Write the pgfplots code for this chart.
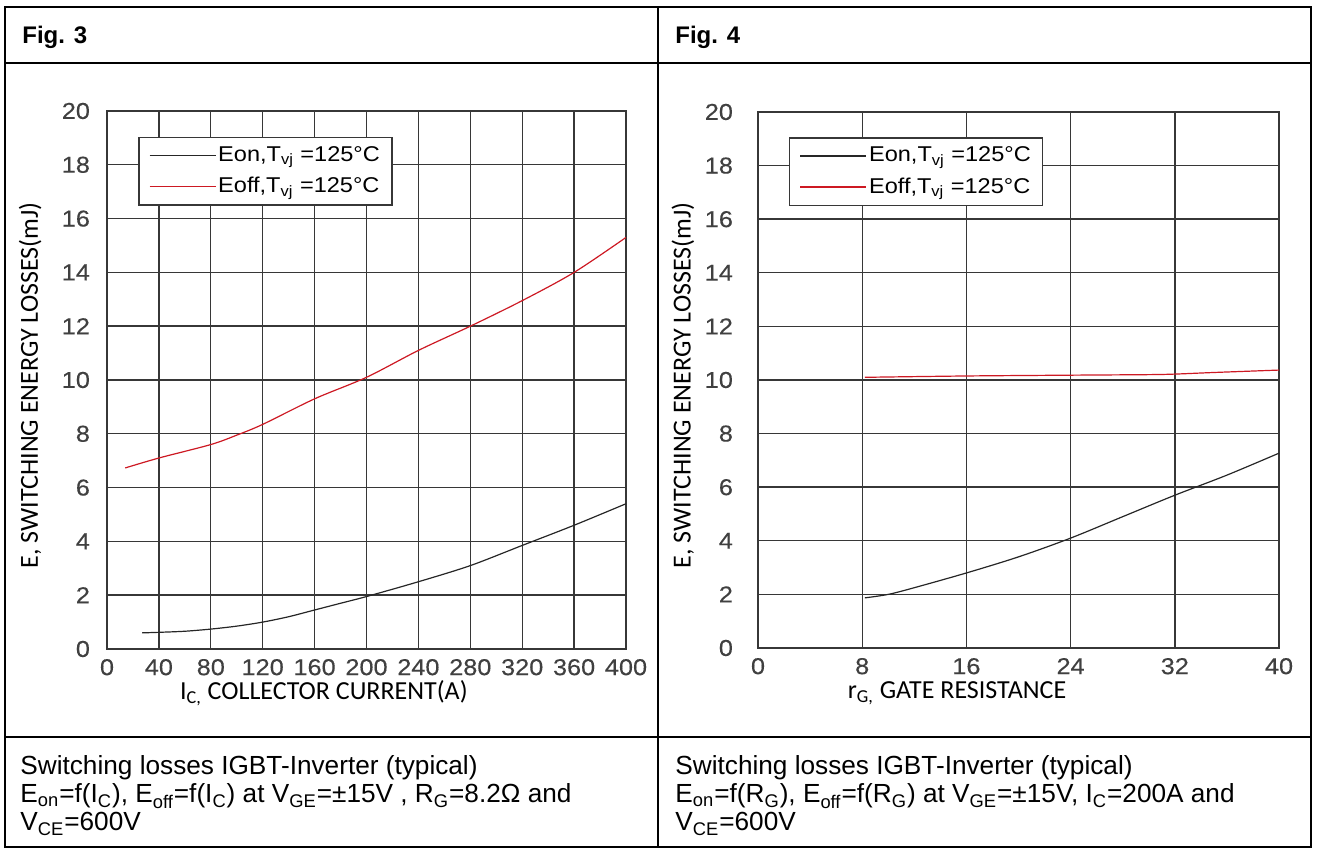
\documentclass[border=0pt]{standalone}
\usepackage{pgfplots}
\pgfplotsset{compat=1.18}
\usepackage{fontspec}
\setmainfont{Liberation Sans}
\newfontfamily\plotfont[FakeStretch=1.1,FakeBold=0.3]{Liberation Sans}
\newfontfamily\legfont[FakeStretch=1.1]{Liberation Sans}
\newfontfamily\labelfont{Carlito}
\definecolor{gridc}{RGB}{55,55,55}
\definecolor{offred}{RGB}{205,25,35}
\pgfplotsset{
  dsheet/.style={
    scale only axis,
    ymin=0, ymax=20, ytick={0,2,...,20},
    grid=major,
    major grid style={gridc, line width=0.7pt},
    axis line style={gridc, line width=0.7pt},
    major tick length=0pt,
    ticklabel style={font=\plotfont\fontsize{11.5}{12}\selectfont, text=black!75},
    /pgf/number format/assume math mode=true,
    xticklabel style={yshift=-1.5pt},
    legend cell align=left,
    legend image code/.code={\draw[##1, line width=0.7pt] (0pt,0pt) -- (33pt,0pt);},
    legend style={anchor=north west, draw=gridc, line width=0.7pt, fill=white,
      font=\legfont\fontsize{10.7}{12}\selectfont, inner xsep=5pt, inner ysep=3.5pt,
      row sep=4.5pt, nodes={inner sep=1pt}},
    xlabel style={font=\labelfont\fontsize{13}{15}\selectfont, anchor=center},
    ylabel style={font=\labelfont\fontsize{13}{15}\selectfont, anchor=center},
  }
}
\begin{document}
\begin{tikzpicture}[x=0.5pt,y=0.5pt]
\path (0,0) rectangle (1317,851);
% table frame
\draw[line width=1.25pt] (5,844) rectangle (1311,4);
\draw[line width=1.25pt] (658,844) -- (658,4);
\draw[line width=1.25pt] (5,788) -- (1311,788);
\draw[line width=1.25pt] (5,114) -- (1311,114);
% headers
\node[anchor=base west, inner sep=0pt, font=\bfseries\fontsize{12}{14}\selectfont] at (22,807) {Fig. 3};
\node[anchor=base west, inner sep=0pt, font=\bfseries\fontsize{12}{14}\selectfont] at (675,807) {Fig. 4};
% captions
\node[anchor=base west, inner sep=0pt, font=\fontsize{13.1}{15}\selectfont] at (20,76)
 {Switching losses IGBT-Inverter (typical)};
\node[anchor=base west, inner sep=0pt, font=\fontsize{13.1}{15}\selectfont] at (20,48)
 {E\textsubscript{on}=f(I\textsubscript{C}), E\textsubscript{off}=f(I\textsubscript{C}) at V\textsubscript{GE}=±15V , R\textsubscript{G}=8.2Ω and};
\node[anchor=base west, inner sep=0pt, font=\fontsize{13.1}{15}\selectfont] at (20,20)
 {V\textsubscript{CE}=600V};
\node[anchor=base west, inner sep=0pt, font=\fontsize{13.1}{15}\selectfont] at (675,76)
 {Switching losses IGBT-Inverter (typical)};
\node[anchor=base west, inner sep=0pt, font=\fontsize{13.1}{15}\selectfont] at (675,48)
 {E\textsubscript{on}=f(R\textsubscript{G}), E\textsubscript{off}=f(R\textsubscript{G}) at V\textsubscript{GE}=±15V, I\textsubscript{C}=200A and};
\node[anchor=base west, inner sep=0pt, font=\fontsize{13.1}{15}\selectfont] at (675,20)
 {V\textsubscript{CE}=600V};

% Fig. 3
\begin{axis}[dsheet,
  at={(53.5pt,101pt)}, anchor=south west,
  width=259.5pt, height=269pt,
  xmin=0, xmax=400, xtick={0,40,...,400},
  yticklabel style={xshift=-5pt},
  legend style={at={(rel axis cs:0.06,0.952)}},
  xlabel={I\textsubscript{C,} COLLECTOR CURRENT(A)},
  ylabel={E, SWITCHING ENERGY LOSSES(mJ)},
  xlabel style={at={(axis description cs:0.418,-0.082)}},
  ylabel style={at={(axis description cs:-0.148,0.49)}},
]
\addplot[black!85, line width=0.6pt, smooth] coordinates {
 (27,0.6) (40,0.62) (60,0.66) (80,0.74) (100,0.85) (120,1.0) (140,1.2)
 (160,1.45) (180,1.7) (200,1.95) (240,2.5) (280,3.1) (320,3.85) (360,4.6) (400,5.4)};
\addlegendentry{Eon,T\textsubscript{vj} =125°C}
\addplot[offred, line width=0.6pt, smooth] coordinates {
 (14,6.73) (40,7.1) (80,7.6) (100,7.95) (120,8.35) (160,9.3) (200,10.1)
 (240,11.1) (280,12.0) (320,12.95) (360,14.0) (400,15.3)};
\addlegendentry{Eoff,T\textsubscript{vj} =125°C}
\end{axis}

% Fig. 4
\begin{axis}[dsheet,
  at={(379pt,101.5pt)}, anchor=south west,
  width=260.5pt, height=268pt,
  xmin=0, xmax=40, xtick={0,8,...,40},
  yticklabel style={xshift=-9pt},
  legend style={at={(rel axis cs:0.0595,0.953)}},
  xlabel={r\textsubscript{G,} GATE RESISTANCE},
  ylabel={E, SWITCHING ENERGY LOSSES(mJ)},
  xlabel style={at={(axis description cs:0.382,-0.084)}},
  ylabel style={at={(axis description cs:-0.144,0.49)}},
]
\addplot[black!85, line width=0.6pt, smooth] coordinates {
 (8.2,1.87) (10,2.0) (12,2.25) (16,2.8) (20,3.4) (24,4.1) (28,4.9)
 (32,5.7) (36,6.45) (40,7.27)};
\addlegendentry{Eon,T\textsubscript{vj} =125°C}
\addplot[offred, line width=0.6pt, smooth] coordinates {
 (8.2,10.1) (16,10.15) (24,10.18) (30,10.2) (32,10.22) (35,10.28) (40,10.37)};
\addlegendentry{Eoff,T\textsubscript{vj} =125°C}
\end{axis}
\end{tikzpicture}
\end{document}
